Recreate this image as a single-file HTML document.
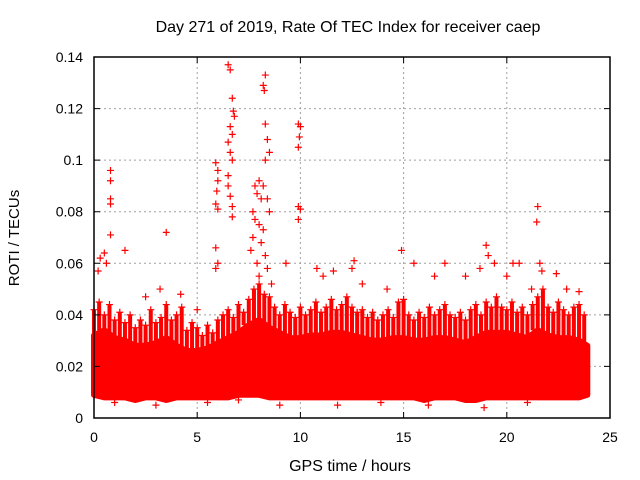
<!DOCTYPE html>
<html><head><meta charset="utf-8"><style>
body{margin:0;background:#fff}
svg{display:block;font-family:"Liberation Sans",sans-serif}
</style></head><body>
<svg id="c" width="640" height="480" viewBox="0 0 640 480">
<text x="348" y="32" font-size="16" text-anchor="middle">Day 271 of 2019, Rate Of TEC Index for receiver caep</text>
<text transform="translate(19,238) rotate(-90)" font-size="15" text-anchor="middle">ROTI / TECUs</text>
<text x="350" y="471" font-size="16" text-anchor="middle">GPS time / hours</text>
<g id="grid"></g><g id="marks"></g><g id="axes"></g>
</svg>
<script>
const xTicks=[0,5,10,15,20,25];
const yTicks=[0,0.02,0.04,0.06,0.08,0.1,0.12,0.14];
const yTickLabels=["0","0.02","0.04","0.06","0.08","0.1","0.12","0.14"];
const bandHours=[0,0.5,1,1.5,2,2.5,3,3.5,4,4.5,5,5.5,6,6.5,7,7.5,8,8.5,9,9.5,10,10.5,11,11.5,12,12.5,13,13.5,14,14.5,15,15.5,16,16.5,17,17.5,18,18.5,19,19.5,20,20.5,21,21.5,22,22.5,23,23.5,23.9];
const bandHigh=[0.032,0.034,0.031,0.03,0.028,0.028,0.029,0.031,0.028,0.026,0.026,0.027,0.029,0.031,0.033,0.036,0.038,0.035,0.033,0.031,0.031,0.032,0.032,0.033,0.033,0.032,0.031,0.03,0.03,0.031,0.031,0.03,0.03,0.031,0.031,0.03,0.029,0.031,0.033,0.033,0.033,0.032,0.031,0.034,0.032,0.031,0.031,0.03,0.028];
const bandLow=[0.009,0.008,0.008,0.008,0.007,0.008,0.008,0.007,0.008,0.008,0.008,0.008,0.008,0.008,0.009,0.009,0.009,0.008,0.008,0.008,0.008,0.008,0.008,0.008,0.008,0.008,0.008,0.008,0.008,0.008,0.008,0.008,0.007,0.008,0.008,0.008,0.007,0.007,0.008,0.008,0.008,0.008,0.008,0.008,0.008,0.008,0.008,0.008,0.009];
const fringeHours=[0,0.25,0.5,0.75,1,1.25,1.5,1.75,2,2.25,2.5,2.75,3,3.25,3.5,3.75,4,4.25,4.5,4.75,5,5.25,5.5,5.75,6,6.25,6.5,6.75,7,7.25,7.5,7.75,8,8.25,8.5,8.75,9,9.25,9.5,9.75,10,10.25,10.5,10.75,11,11.25,11.5,11.75,12,12.25,12.5,12.75,13,13.25,13.5,13.75,14,14.25,14.5,14.75,15,15.25,15.5,15.75,16,16.25,16.5,16.75,17,17.25,17.5,17.75,18,18.25,18.5,18.75,19,19.25,19.5,19.75,20,20.25,20.5,20.75,21,21.25,21.5,21.75,22,22.25,22.5,22.75,23,23.25,23.5,23.75];
const fringeValues=[0.042,0.045,0.04,0.044,0.038,0.041,0.037,0.04,0.035,0.038,0.036,0.042,0.037,0.039,0.044,0.038,0.04,0.043,0.034,0.037,0.035,0.032,0.036,0.033,0.038,0.04,0.042,0.039,0.044,0.041,0.046,0.05,0.052,0.048,0.047,0.043,0.04,0.044,0.041,0.039,0.043,0.04,0.042,0.045,0.041,0.043,0.046,0.042,0.044,0.047,0.043,0.041,0.042,0.039,0.041,0.038,0.04,0.042,0.039,0.045,0.046,0.04,0.038,0.041,0.039,0.043,0.04,0.042,0.044,0.04,0.039,0.041,0.038,0.042,0.044,0.04,0.045,0.043,0.047,0.043,0.042,0.045,0.041,0.043,0.04,0.044,0.047,0.05,0.043,0.041,0.045,0.042,0.04,0.043,0.044,0.04];
const outHours=[0.8,0.8,0.8,0.8,0.8,1.5,0.5,0.3,0.6,0.2,3.5,6.5,6.6,6.7,6.75,6.8,6.6,6.7,6.5,6.6,6.7,5.9,6.0,6.0,5.95,5.9,6.0,6.5,6.5,6.6,6.7,6.7,5.9,6.0,5.9,8.3,8.2,8.25,8.3,8.4,8.5,8.3,8.0,8.2,7.8,7.9,8.1,8.4,8.5,7.7,7.8,8.0,8.2,7.7,8.1,7.6,8.3,7.9,8.4,8.0,8.6,9.9,10.0,9.95,9.9,9.9,10.0,9.9,9.3,10.8,11.6,12.6,12.5,11.1,14.9,15.5,16.5,17,18,18.7,19,19.1,19.4,20,20.3,20.6,21.5,21.45,21.6,21.7,22.4,22.9,21.2,2.5,3.2,4.2,5.0,13,14.2,23.5,1.0,3.0,5.5,7.0,9.0,11.8,13.9,16.2,18.9,21.0,22.7];
const outValues=[0.096,0.092,0.085,0.083,0.071,0.065,0.064,0.062,0.06,0.057,0.072,0.137,0.135,0.124,0.119,0.117,0.113,0.11,0.107,0.103,0.1,0.099,0.096,0.092,0.088,0.083,0.081,0.09,0.094,0.086,0.082,0.078,0.066,0.06,0.058,0.133,0.129,0.127,0.114,0.108,0.103,0.1,0.092,0.09,0.09,0.087,0.085,0.085,0.08,0.08,0.077,0.075,0.073,0.07,0.068,0.065,0.063,0.06,0.058,0.055,0.052,0.114,0.113,0.109,0.105,0.082,0.081,0.077,0.06,0.058,0.057,0.061,0.058,0.055,0.065,0.06,0.055,0.06,0.055,0.058,0.067,0.063,0.06,0.055,0.06,0.06,0.082,0.076,0.06,0.057,0.056,0.05,0.05,0.047,0.05,0.048,0.042,0.052,0.05,0.049,0.006,0.005,0.006,0.007,0.005,0.005,0.006,0.005,0.004,0.006];
const L=94,R=610,T=57,B=418;
const X=v=>L+(v-0)/(25-0)*(R-L);
const Y=v=>B-(v-0)/(0.14-0)*(B-T);
const NS='http://www.w3.org/2000/svg';
function mk(tag,attrs,parent){const e=document.createElementNS(NS,tag);for(const k in attrs)e.setAttribute(k,attrs[k]);parent.appendChild(e);return e;}
const grid=document.getElementById('grid'),marks=document.getElementById('marks'),axes=document.getElementById('axes');
xTicks.forEach((t,i)=>{
 if(i>0&&i<xTicks.length-1){const g=mk('line',{x1:X(t),x2:X(t),y1:T,y2:B,stroke:'#a0a0a0','stroke-dasharray':'2,3'},grid);
 
 }
 const tk=mk('path',{d:`M${X(t)},${B}v-6M${X(t)},${T}v6`,stroke:'#000'},axes);
 
 
 const lb=mk('text',{x:X(t),y:B+24,'font-size':14,'text-anchor':'middle'},axes);lb.textContent=t;
 
 
});
yTicks.forEach((t,i)=>{
 if(i>0&&i<yTicks.length-1){const g=mk('line',{x1:L,x2:R,y1:Y(t),y2:Y(t),stroke:'#a0a0a0','stroke-dasharray':'2,3'},grid);
 
 }
 const tk=mk('path',{d:`M${L},${Y(t)}h6M${R},${Y(t)}h-6`,stroke:'#000'},axes);
 
 
 const lb=mk('text',{x:L-11,y:Y(t)+5,'font-size':14,'text-anchor':'end'},axes);lb.textContent=yTickLabels[i];
 
 
});
let d='M'+bandHours.map((h,i)=>X(h)+','+Y(bandHigh[i])).join('L');
for(let i=bandHours.length-1;i>=0;i--)d+='L'+X(bandHours[i])+','+Y(bandLow[i]);
d+='Z';
const band=mk('path',{d:d,fill:'#ff0000',stroke:'#ff0000','stroke-width':6,'stroke-linejoin':'round'},marks);


fringeHours.forEach((h,i)=>{
 const x=X(h),y=Y(fringeValues[i]),y0=Y(bandHigh[Math.min(bandHigh.length-1,Math.round(h*2))]);
 const s=mk('path',{d:`M${x},${y}V${y0}`,stroke:'#ff0000','stroke-width':4},marks);
 
 
 const p=mk('path',{d:`M${x-3.5},${y}h7M${x},${y-3.5}v7`,stroke:'#ff0000','stroke-width':1.2},marks);
 
 
});
outHours.forEach((h,i)=>{
 const x=X(h),y=Y(outValues[i]);
 const p=mk('path',{d:`M${x-3.5},${y}h7M${x},${y-3.5}v7`,stroke:'#ff0000','stroke-width':1.2},marks);
 
 
});
const f=mk('rect',{x:L,y:T,width:R-L,height:B-T,fill:'none',stroke:'#000','stroke-width':1.5},axes);


</script>
</body></html>
